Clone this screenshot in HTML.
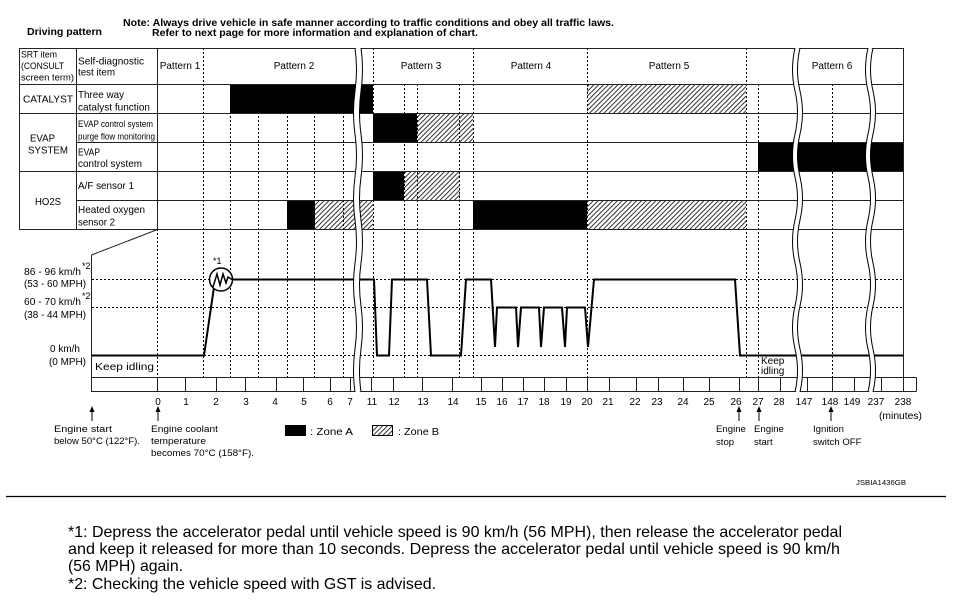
<!DOCTYPE html>
<html><head><meta charset="utf-8"><style>
html,body{margin:0;padding:0;background:#fff;}
svg{display:block;}
text{font-family:"Liberation Sans",Arial,Helvetica,sans-serif;fill:#000;}
</style></head><body>
<svg width="953" height="608" viewBox="0 0 953 608" xmlns="http://www.w3.org/2000/svg">
<defs>
<pattern id="h" width="3.4" height="3.4" patternUnits="userSpaceOnUse" patternTransform="rotate(45)">
<line x1="0.5" y1="0" x2="0.5" y2="3.4" stroke="#000" stroke-width="0.8"/>
</pattern>
</defs>
<rect width="953" height="608" fill="#fff"/>

<!-- Title -->
<text x="27" y="35" font-size="10.5" font-weight="bold" textLength="75" lengthAdjust="spacingAndGlyphs">Driving pattern</text>
<text x="123" y="26" font-size="10.5" font-weight="bold" textLength="491" lengthAdjust="spacingAndGlyphs">Note: Always drive vehicle in safe manner according to traffic conditions and obey all traffic laws.</text>
<text x="152" y="36" font-size="10.5" font-weight="bold" textLength="326" lengthAdjust="spacingAndGlyphs">Refer to next page for more information and explanation of chart.</text>

<!-- Fills: black -->
<g fill="#000">
<rect x="230" y="84" width="143" height="29"/>
<rect x="373" y="113" width="44" height="29"/>
<rect x="373" y="171" width="31" height="29"/>
<rect x="287" y="200" width="28" height="29"/>
<rect x="473" y="200" width="114" height="29"/>
<rect x="758" y="142" width="145" height="29"/>
</g>
<!-- Fills: hatch -->
<g fill="url(#h)">
<rect x="417" y="113" width="56" height="29"/>
<rect x="404" y="171" width="56" height="29"/>
<rect x="315" y="200" width="58" height="29"/>
<rect x="587" y="200" width="159" height="29"/>
<rect x="587" y="84" width="159" height="29"/>
</g>

<!-- Dashed verticals -->
<g stroke="#000" stroke-width="1" stroke-dasharray="2,2" fill="none">
<line x1="203.5" y1="48" x2="203.5" y2="377"/>
<line x1="373.5" y1="48" x2="373.5" y2="377"/>
<line x1="473.5" y1="48" x2="473.5" y2="377"/>
<line x1="587.5" y1="48" x2="587.5" y2="377"/>
<line x1="746.5" y1="48" x2="746.5" y2="377"/>
<line x1="230.5" y1="84" x2="230.5" y2="377"/>
<line x1="258.5" y1="84" x2="258.5" y2="377"/>
<line x1="287.5" y1="84" x2="287.5" y2="377"/>
<line x1="314.5" y1="84" x2="314.5" y2="377"/>
<line x1="343.5" y1="84" x2="343.5" y2="377"/>
<line x1="404.5" y1="84" x2="404.5" y2="377"/>
<line x1="417.5" y1="84" x2="417.5" y2="377"/>
<line x1="459.5" y1="84" x2="459.5" y2="377"/>
<line x1="758.5" y1="84" x2="758.5" y2="377"/>
<line x1="832.5" y1="84" x2="832.5" y2="377"/>
<line x1="157.5" y1="229" x2="157.5" y2="377"/>
<!-- horizontals -->
<line x1="92" y1="279.5" x2="903" y2="279.5"/>
<line x1="92" y1="307.5" x2="903" y2="307.5"/>
<line x1="92" y1="355.5" x2="903" y2="355.5"/>
</g>

<!-- Table solid lines -->
<g stroke="#222" stroke-width="1" fill="none">
<line x1="19" y1="48.5" x2="903" y2="48.5"/>
<line x1="19" y1="84.5" x2="903" y2="84.5"/>
<line x1="19" y1="113.5" x2="903" y2="113.5"/>
<line x1="76" y1="142.5" x2="903" y2="142.5"/>
<line x1="19" y1="171.5" x2="903" y2="171.5"/>
<line x1="76" y1="200.5" x2="903" y2="200.5"/>
<line x1="19" y1="229.5" x2="903" y2="229.5"/>
<line x1="19.5" y1="48" x2="19.5" y2="229.5"/>
<line x1="76.5" y1="48" x2="76.5" y2="229.5"/>
<line x1="157.5" y1="48" x2="157.5" y2="229.5"/>
<line x1="903.5" y1="48" x2="903.5" y2="392"/>
<!-- diagonal & left axis -->
<line x1="91.5" y1="255" x2="157.5" y2="229.5"/>
<line x1="91.5" y1="255" x2="91.5" y2="392"/>
<!-- axis bar -->
<line x1="91" y1="377.5" x2="916.5" y2="377.5"/>
<line x1="91" y1="391.5" x2="916.5" y2="391.5"/>
<line x1="916.5" y1="377.5" x2="916.5" y2="391.5"/>
</g>
<!-- Axis ticks -->
<g stroke="#222" stroke-width="1">
<line x1="157.5" y1="377" x2="157.5" y2="392"/>
<line x1="185.5" y1="377" x2="185.5" y2="392"/>
<line x1="216.5" y1="377" x2="216.5" y2="392"/>
<line x1="245.5" y1="377" x2="245.5" y2="392"/>
<line x1="276.5" y1="377" x2="276.5" y2="392"/>
<line x1="303.5" y1="377" x2="303.5" y2="392"/>
<line x1="330.5" y1="377" x2="330.5" y2="392"/>
<line x1="350.5" y1="377" x2="350.5" y2="392"/>
<line x1="371.5" y1="377" x2="371.5" y2="392"/>
<line x1="393.5" y1="377" x2="393.5" y2="392"/>
<line x1="422.5" y1="377" x2="422.5" y2="392"/>
<line x1="452.5" y1="377" x2="452.5" y2="392"/>
<line x1="481.5" y1="377" x2="481.5" y2="392"/>
<line x1="502.5" y1="377" x2="502.5" y2="392"/>
<line x1="523.5" y1="377" x2="523.5" y2="392"/>
<line x1="544.5" y1="377" x2="544.5" y2="392"/>
<line x1="566.5" y1="377" x2="566.5" y2="392"/>
<line x1="587.5" y1="377" x2="587.5" y2="392"/>
<line x1="609.5" y1="377" x2="609.5" y2="392"/>
<line x1="636.5" y1="377" x2="636.5" y2="392"/>
<line x1="658.5" y1="377" x2="658.5" y2="392"/>
<line x1="683.5" y1="377" x2="683.5" y2="392"/>
<line x1="709.5" y1="377" x2="709.5" y2="392"/>
<line x1="739.5" y1="377" x2="739.5" y2="392"/>
<line x1="758.5" y1="377" x2="758.5" y2="392"/>
<line x1="780.5" y1="377" x2="780.5" y2="392"/>
<line x1="807.5" y1="377" x2="807.5" y2="392"/>
<line x1="832.5" y1="377" x2="832.5" y2="392"/>
<line x1="854.5" y1="377" x2="854.5" y2="392"/>
<line x1="881.5" y1="377" x2="881.5" y2="392"/>
</g>

<!-- Table texts -->
<g font-size="9.5">
<text x="21" y="57.5" textLength="36" lengthAdjust="spacingAndGlyphs">SRT item</text>
<text x="21" y="69" textLength="43" lengthAdjust="spacingAndGlyphs">(CONSULT</text>
<text x="21" y="80.5" textLength="53" lengthAdjust="spacingAndGlyphs">screen term)</text>
<text x="78" y="127" textLength="75" lengthAdjust="spacingAndGlyphs">EVAP control system</text>
<text x="78" y="139.5" textLength="77" lengthAdjust="spacingAndGlyphs">purge flow monitoring</text>
</g>
<g font-size="10.5">
<text x="78" y="64.5" textLength="66" lengthAdjust="spacingAndGlyphs">Self-diagnostic</text>
<text x="78" y="75.5" textLength="37" lengthAdjust="spacingAndGlyphs">test item</text>
<text x="23" y="102.5" textLength="50" lengthAdjust="spacingAndGlyphs">CATALYST</text>
<text x="78" y="98" textLength="46" lengthAdjust="spacingAndGlyphs">Three way</text>
<text x="78" y="110.5" textLength="72" lengthAdjust="spacingAndGlyphs">catalyst function</text>
<text x="30" y="141.5" textLength="25" lengthAdjust="spacingAndGlyphs">EVAP</text>
<text x="28" y="153.5" textLength="40" lengthAdjust="spacingAndGlyphs">SYSTEM</text>
<text x="78" y="155.5" textLength="22" lengthAdjust="spacingAndGlyphs">EVAP</text>
<text x="78" y="167" textLength="64" lengthAdjust="spacingAndGlyphs">control system</text>
<text x="78" y="189" textLength="56" lengthAdjust="spacingAndGlyphs">A/F sensor 1</text>
<text x="35" y="205" textLength="26" lengthAdjust="spacingAndGlyphs">HO2S</text>
<text x="78" y="213" textLength="67" lengthAdjust="spacingAndGlyphs">Heated oxygen</text>
<text x="78" y="225.5" textLength="37" lengthAdjust="spacingAndGlyphs">sensor 2</text>
</g>
<g font-size="10" text-anchor="middle">
<text x="180" y="69">Pattern 1</text>
<text x="294" y="69">Pattern 2</text>
<text x="421" y="69">Pattern 3</text>
<text x="531" y="69">Pattern 4</text>
<text x="669" y="69">Pattern 5</text>
<text x="832" y="69">Pattern 6</text>
</g>

<!-- Speed labels -->
<g font-size="10">
<text x="24" y="275" textLength="57" lengthAdjust="spacingAndGlyphs">86 - 96 km/h</text>
<text x="82" y="269" font-size="9">*2</text>
<text x="24" y="287" textLength="62" lengthAdjust="spacingAndGlyphs">(53 - 60 MPH)</text>
<text x="24" y="305" textLength="57" lengthAdjust="spacingAndGlyphs">60 - 70 km/h</text>
<text x="82" y="299" font-size="9">*2</text>
<text x="24" y="318" textLength="62" lengthAdjust="spacingAndGlyphs">(38 - 44 MPH)</text>
<text x="50" y="352" textLength="30" lengthAdjust="spacingAndGlyphs">0 km/h</text>
<text x="49" y="365" textLength="37" lengthAdjust="spacingAndGlyphs">(0 MPH)</text>
<text x="95" y="370" font-size="10.5" textLength="59" lengthAdjust="spacingAndGlyphs">Keep idling</text>
<text x="761" y="364">Keep</text>
<text x="761" y="374">idling</text>
<text x="213" y="264" font-size="9">*1</text>
</g>

<!-- Speed profile -->
<polyline fill="none" stroke="#000" stroke-width="2" stroke-linejoin="miter"
 points="92,355.5 204,355.5 214,287"/>
<circle cx="221" cy="279.5" r="11.5" fill="#fff" stroke="#000" stroke-width="1.5"/>
<polyline fill="none" stroke="#000" stroke-width="1.5" points="213,287 217,274 220,285 223,274 226,283 228,277 232,279.5"/>
<polyline fill="none" stroke="#000" stroke-width="2" stroke-linejoin="miter"
 points="232,279.5 374,279.5 377,355.5 389,355.5 392,279.5 427,279.5 431,355.5 461,355.5 466,279.5 491,279.5 495,347 497,307.5 516,307.5 518,347 521,307.5 539,307.5 541,347 544,307.5 562,307.5 565,347 567,307.5 585,307.5 588,347 594,279.5 735,279.5 740,355.5 903,355.5"/>

<!-- Breaks -->
<g fill="none">
<path d="M358,48 q3,21.5 0,43 q-3,21.5 0,43 q3,21.5 0,43 q-3,21.5 0,43 q3,21.5 0,43 q-3,21.5 0,43 q3,21.5 0,43 q-3,21.5 0,43" stroke="#fff" stroke-width="5.5"/>
<path d="M355,48 q3,21.5 0,43 q-3,21.5 0,43 q3,21.5 0,43 q-3,21.5 0,43 q3,21.5 0,43 q-3,21.5 0,43 q3,21.5 0,43 q-3,21.5 0,43" stroke="#000" stroke-width="1"/>
<path d="M361,48 q3,21.5 0,43 q-3,21.5 0,43 q3,21.5 0,43 q-3,21.5 0,43 q3,21.5 0,43 q-3,21.5 0,43 q3,21.5 0,43 q-3,21.5 0,43" stroke="#000" stroke-width="1"/>

<path d="M797.5,48 q-5,21.5 0,43 q5,21.5 0,43 q-5,21.5 0,43 q5,21.5 0,43 q-5,21.5 0,43 q5,21.5 0,43 q-5,21.5 0,43 q5,21.5 0,43" stroke="#fff" stroke-width="4.5"/>
<path d="M795,48 q-5,21.5 0,43 q5,21.5 0,43 q-5,21.5 0,43 q5,21.5 0,43 q-5,21.5 0,43 q5,21.5 0,43 q-5,21.5 0,43 q5,21.5 0,43" stroke="#000" stroke-width="1"/>
<path d="M800,48 q-5,21.5 0,43 q5,21.5 0,43 q-5,21.5 0,43 q5,21.5 0,43 q-5,21.5 0,43 q5,21.5 0,43 q-5,21.5 0,43 q5,21.5 0,43" stroke="#000" stroke-width="1"/>

<path d="M870.5,48 q-5,21.5 0,43 q5,21.5 0,43 q-5,21.5 0,43 q5,21.5 0,43 q-5,21.5 0,43 q5,21.5 0,43 q-5,21.5 0,43 q5,21.5 0,43" stroke="#fff" stroke-width="4.5"/>
<path d="M868,48 q-5,21.5 0,43 q5,21.5 0,43 q-5,21.5 0,43 q5,21.5 0,43 q-5,21.5 0,43 q5,21.5 0,43 q-5,21.5 0,43 q5,21.5 0,43" stroke="#000" stroke-width="1"/>
<path d="M873,48 q-5,21.5 0,43 q5,21.5 0,43 q-5,21.5 0,43 q5,21.5 0,43 q-5,21.5 0,43 q5,21.5 0,43 q-5,21.5 0,43 q5,21.5 0,43" stroke="#000" stroke-width="1"/>
</g>

<!-- Tick labels -->
<g font-size="10" text-anchor="middle">
<text x="158" y="405">0</text><text x="186" y="405">1</text><text x="216" y="405">2</text>
<text x="246" y="405">3</text><text x="275" y="405">4</text><text x="304" y="405">5</text>
<text x="330" y="405">6</text><text x="350" y="405">7</text><text x="372" y="405">11</text>
<text x="394" y="405">12</text><text x="423" y="405">13</text><text x="453" y="405">14</text>
<text x="481" y="405">15</text><text x="502" y="405">16</text><text x="523" y="405">17</text>
<text x="544" y="405">18</text><text x="566" y="405">19</text><text x="587" y="405">20</text>
<text x="608" y="405">21</text><text x="635" y="405">22</text><text x="657" y="405">23</text>
<text x="683" y="405">24</text><text x="709" y="405">25</text><text x="736" y="405">26</text>
<text x="758" y="405">27</text><text x="779" y="405">28</text><text x="804" y="405">147</text>
<text x="830" y="405">148</text><text x="852" y="405">149</text><text x="876" y="405">237</text>
<text x="903" y="405">238</text>
</g>
<text x="879" y="419" font-size="10" textLength="43" lengthAdjust="spacingAndGlyphs">(minutes)</text>

<!-- Arrows -->
<g stroke="#000" stroke-width="1">
<line x1="92" y1="410" x2="92" y2="421"/>
<line x1="158" y1="410" x2="158" y2="421"/>
<line x1="739" y1="410" x2="739" y2="421"/>
<line x1="759" y1="410" x2="759" y2="421"/>
<line x1="831" y1="410" x2="831" y2="421"/>
</g>
<g fill="#000">
<polygon points="92,406 89.5,412 94.5,412"/>
<polygon points="158,406 155.5,412 160.5,412"/>
<polygon points="739,406 736.5,412 741.5,412"/>
<polygon points="759,406 756.5,412 761.5,412"/>
<polygon points="831,406 828.5,412 833.5,412"/>
</g>

<!-- Bottom annotations -->
<g font-size="9.6">
<text x="54" y="432" textLength="58" lengthAdjust="spacingAndGlyphs">Engine start</text>
<text x="54" y="444" textLength="86" lengthAdjust="spacingAndGlyphs">below 50°C (122°F).</text>
<text x="151" y="432" textLength="67" lengthAdjust="spacingAndGlyphs">Engine coolant</text>
<text x="151" y="444" textLength="55" lengthAdjust="spacingAndGlyphs">temperature</text>
<text x="151" y="456" textLength="103" lengthAdjust="spacingAndGlyphs">becomes 70°C (158°F).</text>
<text x="716" y="432">Engine</text>
<text x="716" y="445">stop</text>
<text x="754" y="432">Engine</text>
<text x="754" y="445">start</text>
<text x="813" y="432">Ignition</text>
<text x="813" y="445">switch OFF</text>
</g>

<!-- Legend -->
<rect x="285" y="425" width="21" height="11" fill="#000"/>
<text x="310" y="435" font-size="10.5" textLength="43" lengthAdjust="spacingAndGlyphs">: Zone A</text>
<rect x="372.5" y="425.5" width="20" height="10" fill="url(#h)" stroke="#000" stroke-width="1"/>
<text x="398" y="435" font-size="10.5" textLength="41" lengthAdjust="spacingAndGlyphs">: Zone B</text>

<text x="856" y="485" font-size="7.5" textLength="50" lengthAdjust="spacingAndGlyphs">JSBIA1436GB</text>

<!-- Separator -->
<line x1="6" y1="496.5" x2="946" y2="496.5" stroke="#000" stroke-width="1.3"/>

<!-- Footnotes -->
<g font-size="16">
<text x="68" y="537" textLength="774" lengthAdjust="spacingAndGlyphs">*1: Depress the accelerator pedal until vehicle speed is 90 km/h (56 MPH), then release the accelerator pedal</text>
<text x="68" y="554" textLength="772" lengthAdjust="spacingAndGlyphs">and keep it released for more than 10 seconds. Depress the accelerator pedal until vehicle speed is 90 km/h</text>
<text x="68" y="571" textLength="115" lengthAdjust="spacingAndGlyphs">(56 MPH) again.</text>
<text x="68" y="589" textLength="368" lengthAdjust="spacingAndGlyphs">*2: Checking the vehicle speed with GST is advised.</text>
</g>
</svg>
</body></html>
